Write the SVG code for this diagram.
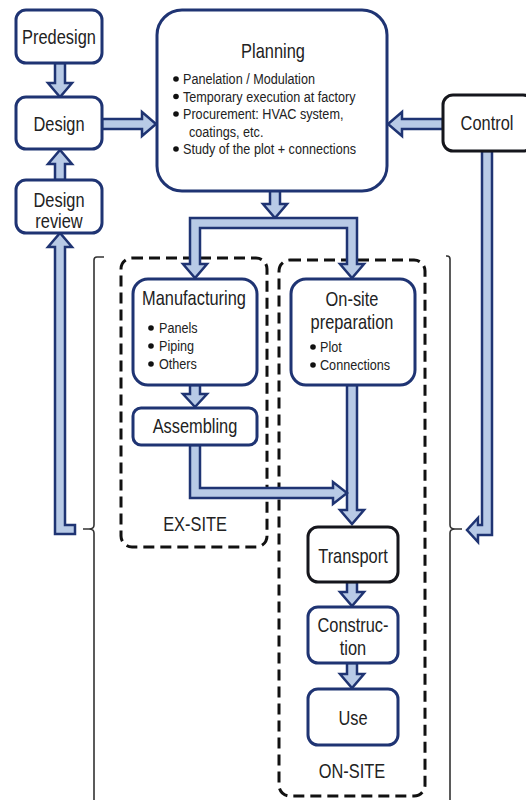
<svg xmlns="http://www.w3.org/2000/svg" width="526" height="800" viewBox="0 0 526 800">
  <style>
    .box { fill: #ffffff; stroke: #1f3473; stroke-width: 3; }
    .box-dark { fill: #ffffff; stroke: #15161c; stroke-width: 3; }
    .zone { fill: none; stroke: #111111; stroke-width: 3; stroke-dasharray: 11 6; }
    .brace { fill: none; stroke: #333333; stroke-width: 1.6; }
    .arrow { fill: #b8cae6; stroke: #1f3473; stroke-width: 2.5; stroke-linejoin: miter; }
    /* narrow sans: Liberation Sans squeezed horizontally by each text's transform */
    .lbl { font-family: "Liberation Sans", Arial, sans-serif; font-size: 20px; fill: #222222; text-anchor: middle; }
    .item { font-family: "Liberation Sans", Arial, sans-serif; font-size: 15.4px; fill: #222222; }
    .dot { fill: #111111; }
  </style>

  <!-- zone frames and braces -->
  <g id="zones">
    <rect class="zone" x="121" y="258" width="146" height="289" rx="11"/>
    <rect class="zone" x="279" y="260" width="146" height="536" rx="11"/>
    <path class="brace" d="M104,257 L97,257 Q94,257 94,260 L94,525 Q94,529 89,529 L83,529 M89,529 Q94,529 94,533 L94,800"/>
    <path class="brace" d="M446,256 L447,256 Q450,256 450,259 L450,525 Q450,529 455,529 L462,529 M455,529 Q450,529 450,533 L450,800"/>
    <text class="lbl" transform="translate(195,531) scale(0.82,1)">EX-SITE</text>
    <text class="lbl" transform="translate(352,778) scale(0.82,1)">ON-SITE</text>
  </g>

  <!-- connectors -->
  <g id="connectors">
    <!-- Predesign -> Design -->
    <polygon class="arrow" points="55,63 65,63 65,83 72,83 60,97 48,83 55,83"/>
    <!-- Design review -> Design -->
    <polygon class="arrow" points="55,180 65,180 65,164 72,164 60,150 48,164 55,164"/>
    <!-- feedback up into Design review -->
    <polygon class="arrow" points="55,534 75,534 75,525 65,525 65,247 72,247 60,233 48,247 55,247"/>
    <!-- Design -> Planning -->
    <polygon class="arrow" points="102,119 142,119 142,112 156,124 142,136 142,129 102,129"/>
    <!-- Control -> Planning -->
    <polygon class="arrow" points="443,119 402,119 402,112 388,124 402,136 402,129 443,129"/>
    <!-- Control -> on-site brace -->
    <polygon class="arrow" points="482,151 492,151 492,535 478,535 478,542 467,530 478,518 478,525 482,525"/>
    <!-- Planning -> split -->
    <polygon class="arrow" points="270,190 280,190 280,204 287,204 275,218 263,204 270,204"/>
    <!-- split to Manufacturing and On-site preparation -->
    <polygon class="arrow" points="190,218 357,218 357,264 364,264 352,278 340,264 347,264 347,228 200,228 200,264 207,264 195,278 183,264 190,264"/>
    <!-- Manufacturing -> Assembling -->
    <polygon class="arrow" points="190,385 200,385 200,394 207,394 195,407 183,394 190,394"/>
    <!-- On-site preparation -> Transport -->
    <polygon class="arrow" points="347,385 357,385 357,510 364,510 352,524 340,510 347,510"/>
    <!-- Assembling -> Transport -->
    <polygon class="arrow" points="190,445 200,445 200,488 333,488 333,482 347,493 333,504 333,498 190,498"/>
    <!-- Transport -> Construction -->
    <polygon class="arrow" points="347,582 357,582 357,592 364,592 352,606 340,592 347,592"/>
    <!-- Construction -> Use -->
    <polygon class="arrow" points="347,663 357,663 357,674 364,674 352,688 340,674 347,674"/>
  </g>

  <g id="predesign">
    <rect class="box" x="16" y="10" width="86" height="53" rx="10"/>
    <text class="lbl" transform="translate(59,44) scale(0.82,1)">Predesign</text>
  </g>

  <g id="design">
    <rect class="box" x="16" y="97" width="86" height="52" rx="10"/>
    <text class="lbl" transform="translate(59,131) scale(0.82,1)">Design</text>
  </g>

  <g id="design-review">
    <rect class="box" x="16" y="180" width="86" height="53" rx="10"/>
    <text class="lbl" transform="translate(59,207) scale(0.82,1)">Design</text>
    <text class="lbl" transform="translate(59,228) scale(0.82,1)">review</text>
  </g>

  <g id="planning">
    <rect class="box" x="157" y="10" width="230" height="181" rx="25"/>
    <text class="lbl" transform="translate(273,58) scale(0.82,1)">Planning</text>
    <circle class="dot" cx="176" cy="79" r="2.8"/>
    <text class="item" transform="translate(183,84) scale(0.82,1)">Panelation / Modulation</text>
    <circle class="dot" cx="176" cy="96.5" r="2.8"/>
    <text class="item" transform="translate(183,101.5) scale(0.82,1)">Temporary execution at factory</text>
    <circle class="dot" cx="176" cy="114" r="2.8"/>
    <text class="item" transform="translate(183,119) scale(0.82,1)">Procurement: HVAC system,</text>
    <text class="item" transform="translate(189,136.5) scale(0.82,1)">coatings, etc.</text>
    <circle class="dot" cx="176" cy="149" r="2.8"/>
    <text class="item" transform="translate(183,154) scale(0.82,1)">Study of the plot + connections</text>
  </g>

  <g id="control">
    <rect class="box-dark" x="443" y="95" width="90" height="56" rx="10"/>
    <text class="lbl" transform="translate(487,130) scale(0.82,1)">Control</text>
  </g>

  <g id="manufacturing">
    <rect class="box" x="133" y="279" width="124" height="106" rx="15"/>
    <text class="lbl" transform="translate(194,305) scale(0.82,1)">Manufacturing</text>
    <circle class="dot" cx="151" cy="328" r="2.8"/>
    <text class="item" transform="translate(159,333) scale(0.82,1)">Panels</text>
    <circle class="dot" cx="151" cy="346" r="2.8"/>
    <text class="item" transform="translate(159,351) scale(0.82,1)">Piping</text>
    <circle class="dot" cx="151" cy="364" r="2.8"/>
    <text class="item" transform="translate(159,369) scale(0.82,1)">Others</text>
  </g>

  <g id="assembling">
    <rect class="box" x="133" y="408" width="124" height="37" rx="8"/>
    <text class="lbl" transform="translate(195,433) scale(0.82,1)">Assembling</text>
  </g>

  <g id="onsite-preparation">
    <rect class="box" x="291" y="279" width="124" height="106" rx="15"/>
    <text class="lbl" transform="translate(352,306) scale(0.82,1)">On-site</text>
    <text class="lbl" transform="translate(352,329) scale(0.82,1)">preparation</text>
    <circle class="dot" cx="313" cy="347" r="2.8"/>
    <text class="item" transform="translate(320,352) scale(0.82,1)">Plot</text>
    <circle class="dot" cx="313" cy="365" r="2.8"/>
    <text class="item" transform="translate(320,370) scale(0.82,1)">Connections</text>
  </g>

  <g id="transport">
    <rect class="box-dark" x="308" y="527" width="90" height="55" rx="10"/>
    <text class="lbl" transform="translate(353,563) scale(0.82,1)">Transport</text>
  </g>

  <g id="construction">
    <rect class="box" x="308" y="607" width="90" height="56" rx="10"/>
    <text class="lbl" transform="translate(353,632) scale(0.82,1)">Construc-</text>
    <text class="lbl" transform="translate(353,655) scale(0.82,1)">tion</text>
  </g>

  <g id="use">
    <rect class="box" x="308" y="689" width="90" height="56" rx="10"/>
    <text class="lbl" transform="translate(353,725) scale(0.82,1)">Use</text>
  </g>
</svg>
